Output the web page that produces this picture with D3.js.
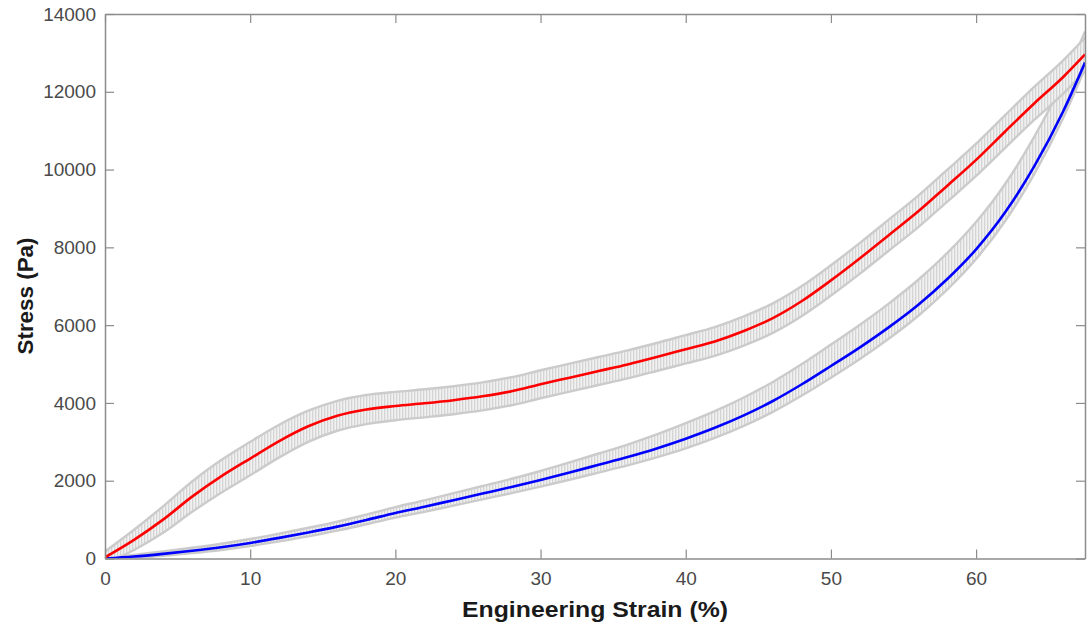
<!DOCTYPE html>
<html>
<head>
<meta charset="utf-8">
<script src="https://cdn.jsdelivr.net/npm/d3@7"></script>
<style>
  html, body { margin: 0; padding: 0; background: #fff; }
  svg { display: block; }
</style>
</head>
<body>
<svg id="chart" width="1088" height="626"></svg>
<script>
// ---- Data ----
const strain = [0, 2, 4, 6, 8, 10, 12, 14, 16, 18, 20, 22, 24, 26, 28, 30, 32, 34, 36, 38, 40,
                42, 44, 46, 48, 50, 52, 54, 56, 58, 60, 62, 64, 66, 67.5];
const redStress = [30, 480, 1000, 1590, 2110, 2570, 3020, 3400, 3670, 3830, 3920, 3990, 4070, 4170, 4300,
                   4480, 4650, 4820, 4990, 5180, 5380, 5580, 5850, 6180, 6620, 7150, 7720, 8320, 8920,
                   9580, 10250, 10980, 11700, 12380, 12960];
const redErr = [150, 260, 340, 390, 420, 430, 420, 400, 385, 375, 365, 360, 360, 360, 360,
                360, 360, 360, 360, 360, 365, 370, 375, 380, 385, 390, 395, 400, 405, 410,
                415, 420, 425, 430, 430];
const blueStress = [0, 50, 120, 200, 290, 400, 530, 670, 820, 990, 1170, 1330, 1500, 1670, 1840,
                    2020, 2210, 2410, 2610, 2830, 3080, 3360, 3680, 4050, 4480, 4950, 5430, 5950, 6520,
                    7180, 7950, 8900, 10080, 11500, 12750];
const blueErrUp = [20, 40, 60, 75, 90, 100, 110, 120, 130, 140, 150, 165, 180, 195, 210,
                   230, 260, 290, 320, 360, 400, 430, 460, 490, 520, 550, 580, 610, 640,
                   670, 700, 730, 760, 780, 800];
const blueErrLow = [20, 35, 50, 60, 70, 80, 90, 100, 105, 110, 120, 130, 140, 150, 160,
                    170, 185, 200, 215, 230, 250, 260, 270, 280, 290, 300, 300, 295, 285,
                    270, 250, 225, 200, 175, 150];
const xTicks = [0, 10, 20, 30, 40, 50, 60];
const yTicks = [0, 2000, 4000, 6000, 8000, 10000, 12000, 14000];
const xLabel = "Engineering Strain (%)";
const yLabel = "Stress (Pa)";

// ---- Layout ----
const svg = d3.select("#chart");
const L = 105, R = 1085, T = 14, B = 558.5;
const x = d3.scaleLinear().domain([0, 67.5]).range([L, R]);
const y = d3.scaleLinear().domain([0, 14000]).range([B, T]);

const axisColor = "#8c8c8c";
const tickTextColor = "#4a4a4a";
const fontFam = "'Liberation Sans', Arial, sans-serif";

// hatch pattern for error bands
const defs = svg.append("defs");
const pat = defs.append("pattern").attr("id", "hatch")
  .attr("patternUnits", "userSpaceOnUse").attr("width", 3).attr("height", 10);
pat.append("rect").attr("width", 3).attr("height", 10).attr("fill", "#f1f1f1");
pat.append("rect").attr("x", 0).attr("width", 1.3).attr("height", 10).attr("fill", "#d4d4d4");

const clip = defs.append("clipPath").attr("id", "plotclip");
clip.append("rect").attr("x", L).attr("y", T).attr("width", R - L).attr("height", B - T);

const idx = d3.range(strain.length);
const plot = svg.append("g").attr("clip-path", "url(#plotclip)");

function band(vals, up, low) {
  const area = d3.area().curve(d3.curveMonotoneX)
    .x(i => x(strain[i])).y0(i => y(vals[i] - low[i])).y1(i => y(vals[i] + up[i]));
  const upper = d3.line().curve(d3.curveMonotoneX).x(i => x(strain[i])).y(i => y(vals[i] + up[i]));
  const lower = d3.line().curve(d3.curveMonotoneX).x(i => x(strain[i])).y(i => y(vals[i] - low[i]));
  plot.append("path").attr("d", area(idx)).attr("fill", "url(#hatch)");
  plot.append("path").attr("d", upper(idx)).attr("fill", "none").attr("stroke", "#cbcbcb").attr("stroke-width", 2.4);
  plot.append("path").attr("d", lower(idx)).attr("fill", "none").attr("stroke", "#cbcbcb").attr("stroke-width", 2.4);
}
band(blueStress, blueErrUp, blueErrLow);
band(redStress, redErr, redErr);

const line = vals => d3.line().curve(d3.curveMonotoneX).x(i => x(strain[i])).y(i => y(vals[i]))(idx);
plot.append("path").attr("d", line(blueStress)).attr("fill", "none").attr("stroke", "#0000ff").attr("stroke-width", 2.6);
plot.append("path").attr("d", line(redStress)).attr("fill", "none").attr("stroke", "#ff0000").attr("stroke-width", 2.6);

// ---- Axes (MATLAB box style, ticks inside, mirrored) ----
const tickLen = 9;
function styleAxis(g) {
  g.selectAll("path.domain").attr("stroke", axisColor).attr("stroke-width", 1.5);
  g.selectAll(".tick line").attr("stroke", axisColor).attr("stroke-width", 1.2);
  g.selectAll(".tick text").attr("fill", tickTextColor)
    .style("font-family", fontFam).style("font-size", "19px");
}
const gx = svg.append("g").attr("transform", `translate(0,${B})`)
  .call(d3.axisBottom(x).tickValues(xTicks).tickFormat(d3.format("d")).tickSizeInner(-tickLen).tickSizeOuter(0));
styleAxis(gx);
gx.selectAll(".tick text").attr("dy", "0.71em").attr("y", 13);

const gxt = svg.append("g").attr("transform", `translate(0,${T})`)
  .call(d3.axisTop(x).tickValues(xTicks).tickFormat("").tickSizeInner(-tickLen).tickSizeOuter(0));
styleAxis(gxt);

const gy = svg.append("g").attr("transform", `translate(${L},0)`)
  .call(d3.axisLeft(y).tickValues(yTicks).tickFormat(d3.format("d")).tickSizeInner(-tickLen).tickSizeOuter(0));
styleAxis(gy);
gy.selectAll(".tick text").attr("x", -9);

const gyr = svg.append("g").attr("transform", `translate(${R},0)`)
  .call(d3.axisRight(y).tickValues(yTicks).tickFormat("").tickSizeInner(-tickLen).tickSizeOuter(0));
styleAxis(gyr);

// axis labels
svg.append("text").attr("x", (L + R) / 2).attr("y", 617).attr("text-anchor", "middle")
  .attr("textLength", 266).attr("lengthAdjust", "spacingAndGlyphs")
  .style("font-family", fontFam).style("font-weight", "bold")
  .style("font-size", "22px").attr("fill", "#1a1a1a").text(xLabel);
svg.append("text").attr("transform", `translate(33,296) rotate(-90)`).attr("text-anchor", "middle")
  .attr("textLength", 117).attr("lengthAdjust", "spacingAndGlyphs")
  .style("font-family", fontFam).style("font-weight", "bold")
  .style("font-size", "22px").attr("fill", "#1a1a1a").text(yLabel);
</script>
</body>
</html>
